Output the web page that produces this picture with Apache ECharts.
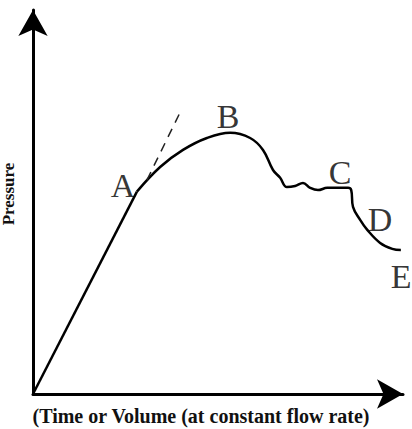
<!DOCTYPE html>
<html>
<head>
<meta charset="utf-8">
<script src="https://cdn.jsdelivr.net/npm/echarts@6/dist/echarts.min.js"></script>
<style>
  html, body { margin: 0; padding: 0; background: #fff; }
  #chart { width: 412px; height: 429px; }
</style>
</head>
<body>
<div id="chart"></div>
<script>
// Pressure curve sketch: origin -> A straight, then A..E smooth
var rampPoints = [[0, 0], [29.1, 54.4]];
var curvePoints = [
  [29.1, 54.4], [35.6, 61.0], [42.0, 65.6], [48.7, 68.8], [55.2, 70.2],
  [60.8, 68.8], [64.4, 65.6], [67.2, 60.2], [69.2, 58.1], [71.1, 55.6],
  [73.4, 55.9], [75.6, 56.7], [77.6, 55.4], [79.8, 54.8], [82.4, 55.4],
  [84.6, 55.4], [88.2, 55.4], [89.1, 54.8], [89.6, 50.3], [91.6, 46.8],
  [93.6, 44.1], [97.2, 40.6], [100.6, 39.0], [103.0, 38.7]
];
var tangentPoints = [[31.9, 57.5], [41.5, 76.3]];
var letterNames = ['A', 'B', 'C', 'D', 'E'];
var letterPoints = [[25.2, 56.0], [54.6, 74.7], [86.0, 59.4], [97.2, 46.8], [103.1, 31.5]];

var chart = echarts.init(document.getElementById('chart'), null, { renderer: 'svg' });
chart.setOption({
  animation: false,
  grid: { left: 33, right: 9, top: 10, bottom: 35, outerBoundsMode: 'none' },
  xAxis: {
    type: 'value', min: 0, max: 103.6,
    name: '(Time or Volume (at constant flow rate)',
    nameLocation: 'middle', nameGap: 12,
    nameTextStyle: { color: '#111', fontFamily: 'Liberation Serif', fontWeight: 'bold', fontSize: 20, padding: [0, 34, 0, 0] },
    axisLine: { show: true, symbol: ['none', 'arrow'], symbolSize: [22, 26], lineStyle: { color: '#000', width: 3 } },
    axisTick: { show: false }, axisLabel: { show: false }, splitLine: { show: false }
  },
  yAxis: {
    type: 'value', min: 0, max: 103.2,
    name: 'Pressure',
    nameLocation: 'middle', nameGap: 16, nameRotate: 90,
    nameTextStyle: { color: '#111', fontFamily: 'Liberation Serif', fontWeight: 'bold', fontSize: 17, padding: [0, 0, 0, 16] },
    axisLine: { show: true, symbol: ['none', 'arrow'], symbolSize: [22, 26], lineStyle: { color: '#000', width: 3 } },
    axisTick: { show: false }, axisLabel: { show: false }, splitLine: { show: false }
  },
  series: [
    {
      type: 'line', data: rampPoints, symbol: 'none', clip: false,
      lineStyle: { color: '#000', width: 2.5 }
    },
    {
      type: 'line', data: curvePoints, symbol: 'none', smooth: 0.4, clip: false,
      lineStyle: { color: '#000', width: 2.5 }
    },
    {
      type: 'line', data: tangentPoints, symbol: 'none', clip: false,
      lineStyle: { color: '#222', width: 1.5, type: [9, 7] }
    },
    {
      type: 'scatter', symbolSize: 0, clip: false,
      data: letterPoints.map(function(p, i) { return { value: p, name: letterNames[i] }; }),
      label: {
        show: true, position: 'inside', formatter: '{b}',
        color: '#000', fontFamily: 'Liberation Serif', fontSize: 34
      }
    }
  ]
});
</script>
</body>
</html>
